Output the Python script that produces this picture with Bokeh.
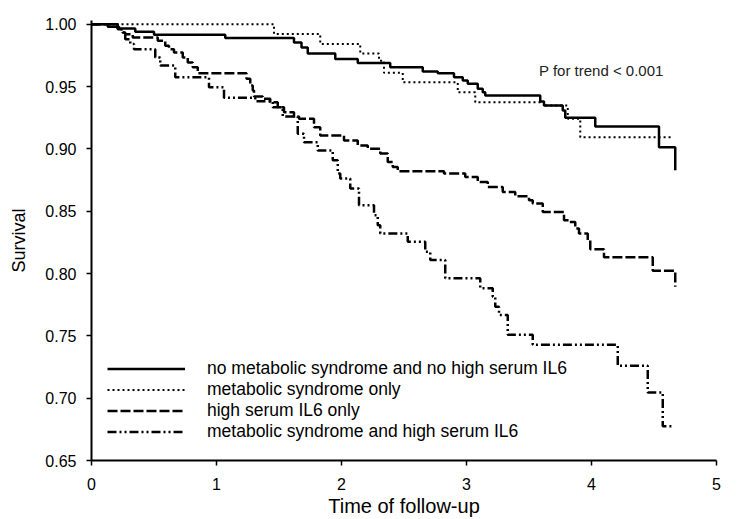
from bokeh.plotting import figure
from bokeh.models import Range1d, FixedTicker, PrintfTickFormatter, Legend, LegendItem, Label
from bokeh.embed import file_html
from bokeh.resources import INLINE

FONT = "Liberation Sans"

# Kaplan-Meier step data (time of follow-up, survival)
t_none = [0, 0.13, 0.22, 0.35, 0.50, 1.07, 1.62, 1.68, 1.73, 1.95, 2.13, 2.39, 2.65, 2.77,
          2.90, 2.97, 3.01, 3.09, 3.13, 3.15, 3.59, 3.62, 3.77, 3.79, 4.03, 4.54, 4.67]
s_none = [1.0, 0.998, 0.9966, 0.994, 0.9916, 0.989, 0.9854, 0.9814, 0.9766, 0.9721, 0.969,
          0.9654, 0.962, 0.9606, 0.9574, 0.9548, 0.9522, 0.9482, 0.9454, 0.9428, 0.938,
          0.9348, 0.9308, 0.925, 0.918, 0.9014, 0.8828]

t_mets = [0, 1.46, 1.83, 2.15, 2.30, 2.34, 2.49, 2.93, 3.07, 3.62, 3.81, 3.91, 4.65]
s_mets = [1.0, 0.9922, 0.9842, 0.9766, 0.9708, 0.961, 0.9534, 0.9454, 0.9374, 0.9348,
          0.9242, 0.9094, 0.9094]

t_il6 = [0, 0.21, 0.25, 0.27, 0.33, 0.53, 0.59, 0.62, 0.66, 0.73, 0.77, 0.81, 0.85, 1.24,
         1.27, 1.29, 1.30, 1.37, 1.43, 1.49, 1.54, 1.62, 1.66, 1.78, 1.83, 2.02, 2.13, 2.21,
         2.31, 2.37, 2.41, 2.45, 2.82, 2.99, 3.09, 3.17, 3.29, 3.39, 3.50, 3.53, 3.61, 3.78,
         3.82, 3.87, 3.90, 3.97, 3.99, 4.10, 4.49, 4.67]
s_il6 = [1.0, 0.996, 0.9934, 0.992, 0.9894, 0.9868, 0.9828, 0.980, 0.9774, 0.9734, 0.9694,
         0.9654, 0.9606, 0.9562, 0.9508, 0.9468, 0.942, 0.9402, 0.9374, 0.9334, 0.9294,
         0.926, 0.9242, 0.9174, 0.9108, 0.9068, 0.9028, 0.9002, 0.8962, 0.8894, 0.8854,
         0.882, 0.8802, 0.8774, 0.8734, 0.8695, 0.8654, 0.862, 0.8588, 0.8562, 0.8494,
         0.8428, 0.8414, 0.8362, 0.8322, 0.8268, 0.8194, 0.813, 0.8022, 0.7894]

t_both = [0, 0.21, 0.25, 0.27, 0.31, 0.34, 0.51, 0.55, 0.67, 0.94, 1.06, 1.31, 1.45, 1.53,
          1.65, 1.70, 1.81, 1.93, 1.97, 1.99, 2.07, 2.14, 2.26, 2.29, 2.31, 2.53, 2.67,
          2.71, 2.83, 3.11, 3.21, 3.23, 3.26, 3.33, 3.53, 4.21, 4.45, 4.57, 4.66]
s_both = [1.0, 0.996, 0.9934, 0.988, 0.9842, 0.980, 0.9734, 0.9668, 0.9574, 0.9494, 0.941,
          0.9382, 0.9334, 0.926, 0.9122, 0.9054, 0.8988, 0.8908, 0.8802, 0.8762, 0.8682,
          0.8548, 0.8468, 0.8388, 0.8322, 0.8254, 0.8174, 0.8108, 0.7962, 0.7882, 0.7814,
          0.7734, 0.7668, 0.7508, 0.7428, 0.726, 0.7046, 0.6774, 0.6774]

labels = ["no metabolic syndrome and no high serum IL6",
          "metabolic syndrome only",
          "high serum IL6 only",
          "metabolic syndrome and high serum IL6"]

x_ticks = [0, 1, 2, 3, 4, 5]
y_ticks = [0.65, 0.70, 0.75, 0.80, 0.85, 0.90, 0.95, 1.00]

p = figure(width=752, height=519, output_backend="svg", toolbar_location=None,
           x_range=Range1d(0, 5), y_range=Range1d(0.65, 1.003),
           min_border_left=91, min_border_right=36, min_border_top=20, min_border_bottom=58)
p.outline_line_color = None
p.grid.visible = False
p.background_fill_color = "white"
p.border_fill_color = "white"

for ax in (p.xaxis[0], p.yaxis[0]):
    ax.axis_line_width = 2
    ax.axis_line_color = "black"
    ax.major_tick_line_width = 1.5
    ax.major_tick_line_color = "black"
    ax.major_tick_in = 0
    ax.major_tick_out = 5
    ax.minor_tick_line_color = None
    ax.major_label_text_font = FONT
    ax.major_label_text_font_size = "16px"
    ax.major_label_text_color = "black"
    ax.axis_label_text_font = FONT
    ax.axis_label_text_font_style = "normal"
    ax.axis_label_text_color = "black"

p.xaxis.ticker = FixedTicker(ticks=x_ticks)
p.yaxis.ticker = FixedTicker(ticks=y_ticks)
p.yaxis.formatter = PrintfTickFormatter(format="%.2f")
p.xaxis.axis_label = "Time of follow-up"
p.yaxis.axis_label = "Survival"
p.xaxis.axis_label_text_font_size = "20px"
p.yaxis.axis_label_text_font_size = "18px"
p.xaxis.major_label_standoff = 12
p.xaxis.axis_label_standoff = 2
p.yaxis.major_label_standoff = 10
p.yaxis.axis_label_standoff = 13

r1 = p.step(t_none, s_none, mode="after", line_color="black", line_width=2.5)
r2 = p.step(t_mets, s_mets, mode="after", line_color="black", line_width=2, line_dash="2 3")
r3 = p.step(t_il6, s_il6, mode="after", line_color="black", line_width=2.5, line_dash="10 3")
r4 = p.step(t_both, s_both, mode="after", line_color="black", line_width=2.5,
            line_dash="9 3 2 3 2 3")

legend = Legend(items=[LegendItem(label=labels[0], renderers=[r1]),
                       LegendItem(label=labels[1], renderers=[r2]),
                       LegendItem(label=labels[2], renderers=[r3]),
                       LegendItem(label=labels[3], renderers=[r4])],
                location=(16, 18), padding=0, margin=0, spacing=0,
                glyph_width=78, glyph_height=19, label_height=19, label_standoff=22,
                label_text_font=FONT, label_text_font_size="17.5px", label_text_color="black",
                label_text_line_height=1.0,
                border_line_alpha=0, background_fill_alpha=0)
p.add_layout(legend, "center")

p.add_layout(Label(x=3.58, y=0.9628, text="P for trend < 0.001", text_font=FONT,
                   text_font_size="15px", text_color="#222222", text_baseline="middle",
                   text_align="left"))

open("out.html", "w").write(file_html(p, INLINE))
